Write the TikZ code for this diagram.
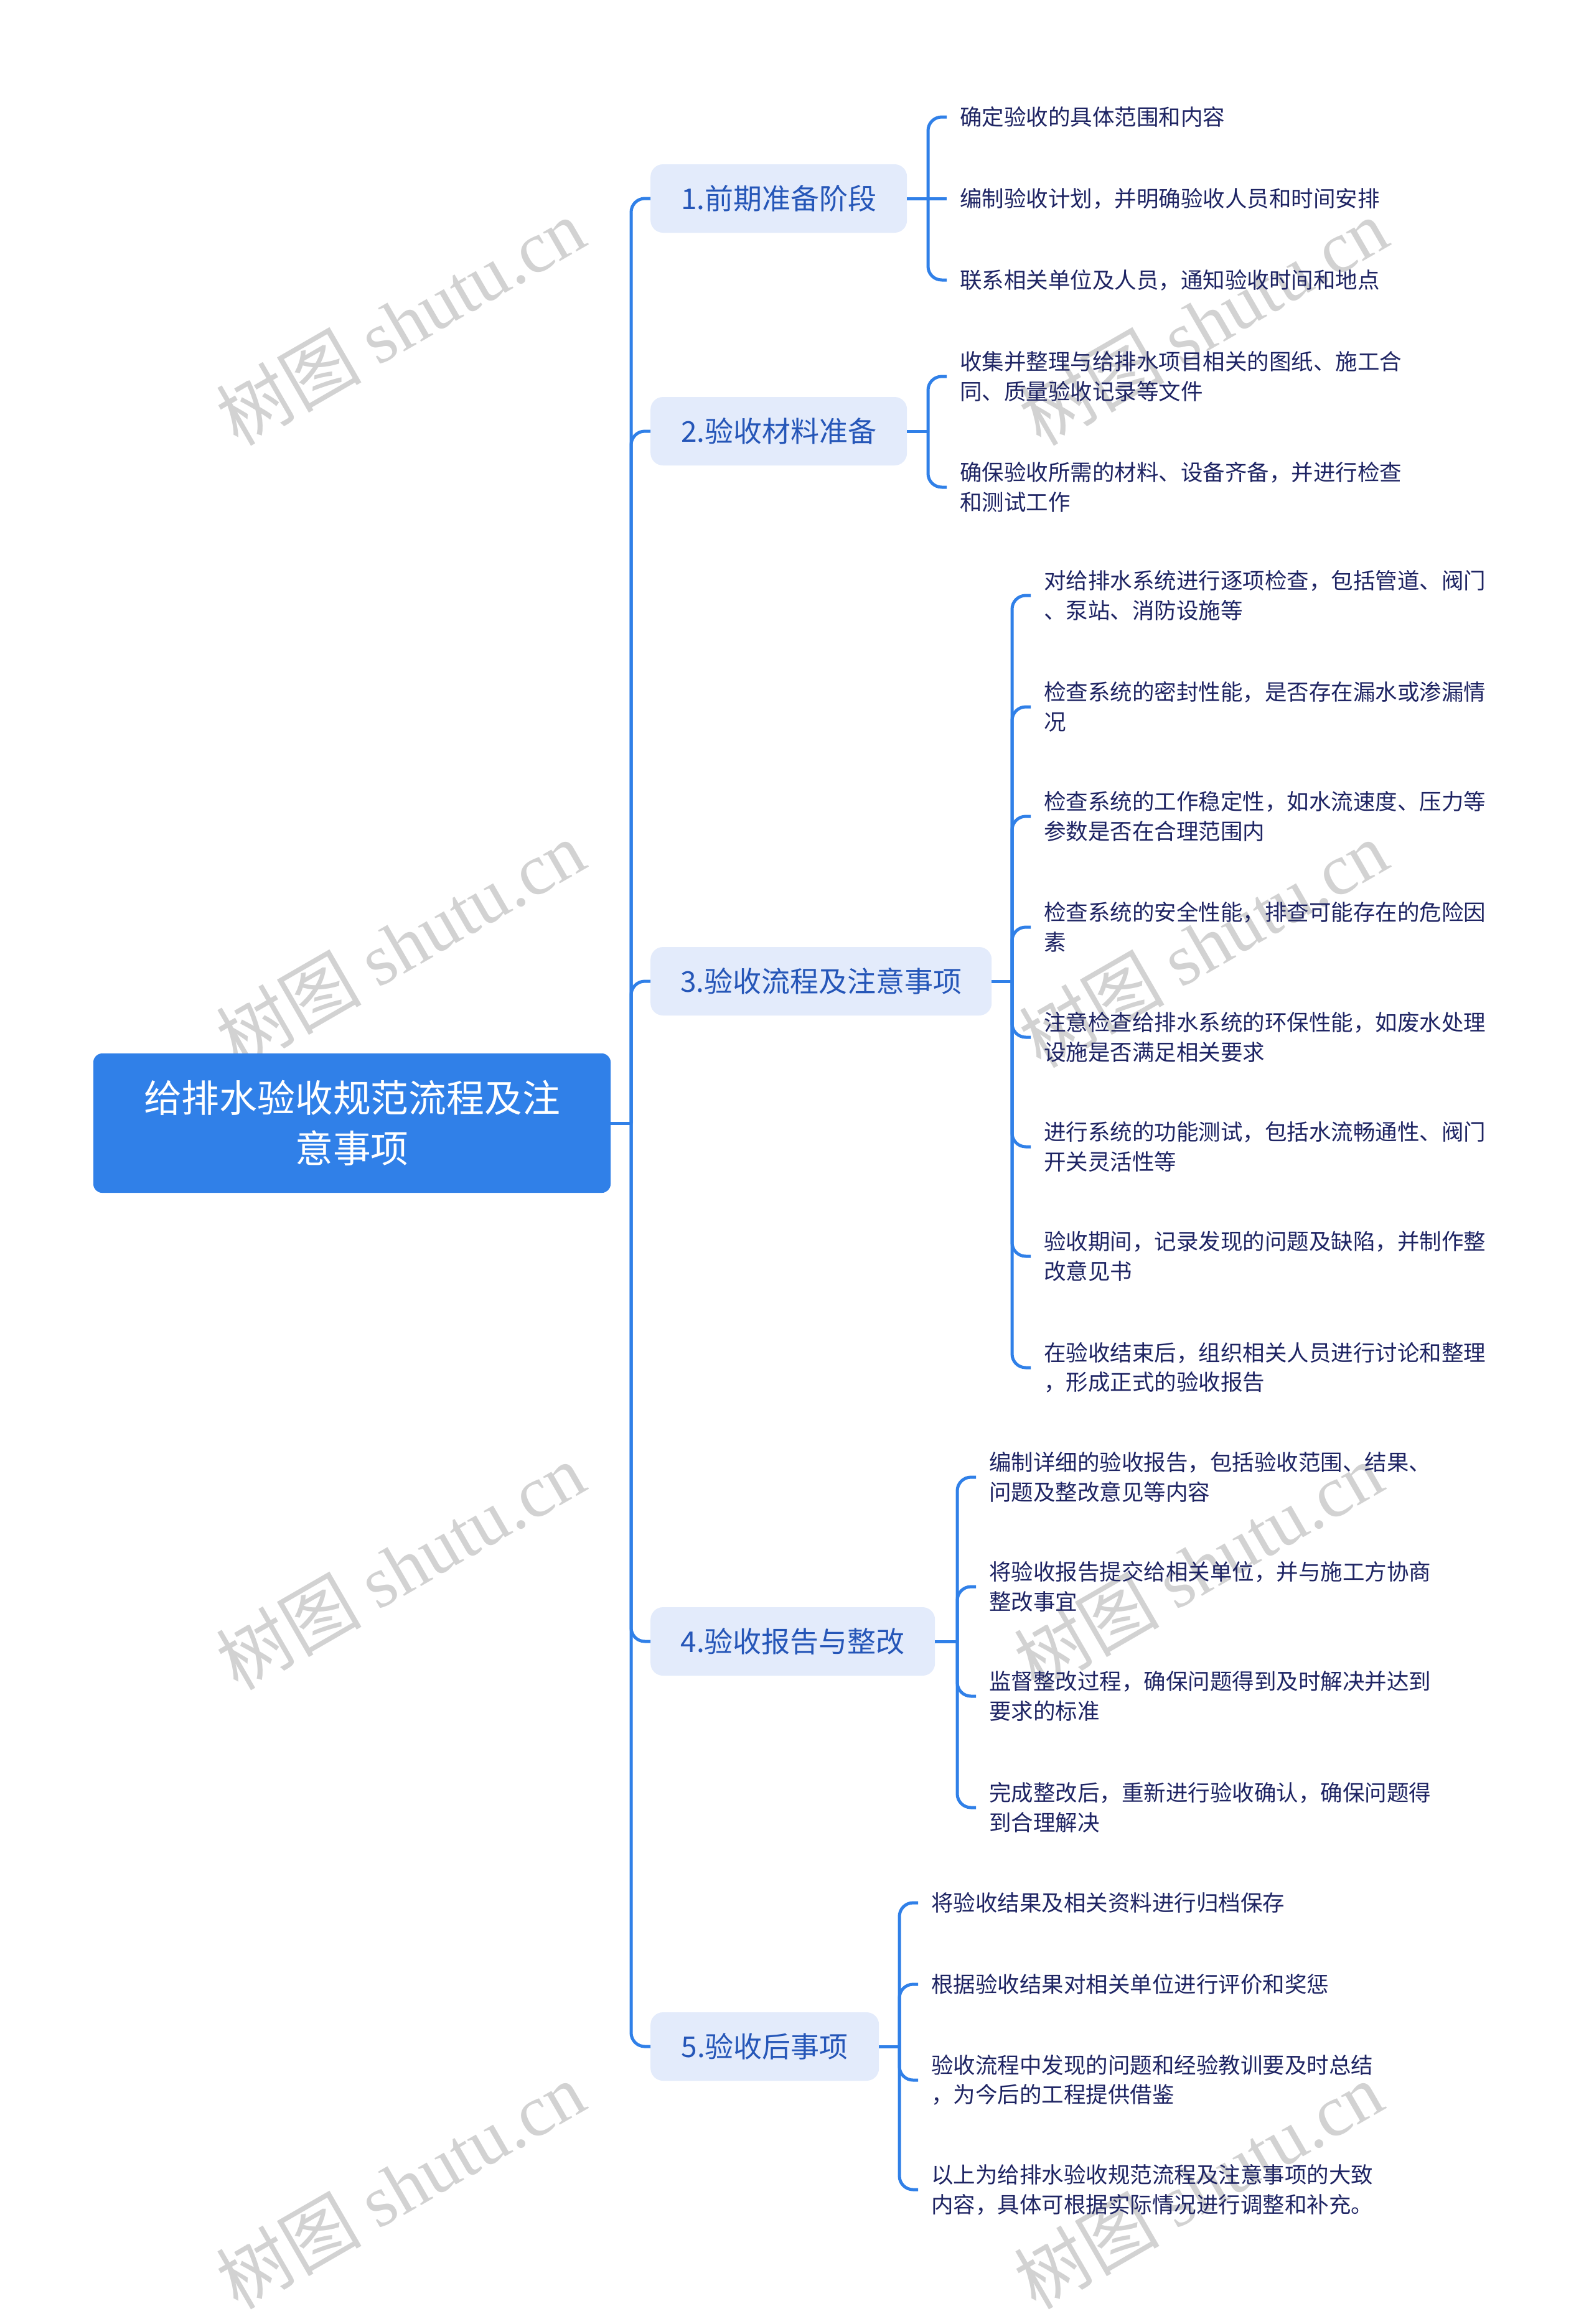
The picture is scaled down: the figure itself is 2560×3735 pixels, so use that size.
\documentclass[tikz,border=0pt]{standalone}
\usepackage{fontspec}
\setmainfont{Noto Sans CJK SC}
\newfontfamily\wmlatin{Liberation Serif}
\newfontfamily\wmcjk{Noto Sans CJK SC}
\definecolor{cblue}{HTML}{3080E8}
\definecolor{bfill}{HTML}{E3EBFB}
\definecolor{btext}{HTML}{2556B8}
\definecolor{ltext}{HTML}{1E2463}
\definecolor{wmgray}{HTML}{D2D2D2}
\tikzset{
  conn/.style={draw=cblue, line width=5pt, rounded corners=22pt},
  rootbox/.style={fill=cblue, rounded corners=14pt, minimum width=831pt, minimum height=224pt,
    align=center, text=white, font=\fontsize{60.8}{81}\selectfont, inner sep=0pt},
  branchbox/.style={fill=bfill, rounded corners=20pt, minimum height=110pt, anchor=west,
    align=center, text=btext, font=\fontsize{46}{56}\selectfont, inner sep=0pt},
  leaf/.style={anchor=west, align=left, text=ltext, font=\fontsize{35.5}{47.6}\selectfont,
    inner xsep=21pt, inner ysep=4pt},
  wm/.style={text=wmgray, rotate=30, font=\fontsize{117}{120}\selectfont, inner sep=0pt}
}
\begin{document}
\begin{tikzpicture}[x=1pt,y=-1pt]
\fill[white] (0,0) rectangle (2560,3735);
\useasboundingbox (0,0) rectangle (2560,3735);

% watermarks (behind everything)
\foreach \i/\wx/\wy in {1/643/517, 2/643/1517, 3/643/2517, 4/643/3512,
                        5/1933/517, 6/1933/1517, 7/1925/2517, 8/1925/3512} {
  \node[wm] (w\i) at (\wx,\wy) {{\wmcjk 树图} {\wmlatin shutu.cn}};
}

% root
\node[rootbox] (root) at (565.5,1805) {给排水验收规范流程及注\\意事项};

% branches
\node[branchbox, minimum width=412pt] (b1) at (1045,319) {1.前期准备阶段};
\node[branchbox, minimum width=412pt] (b2) at (1045,693) {2.验收材料准备};
\node[branchbox, minimum width=548pt] (b3) at (1045,1577) {3.验收流程及注意事项};
\node[branchbox, minimum width=457pt] (b4) at (1045,2638) {4.验收报告与整改};
\node[branchbox, minimum width=367pt] (b5) at (1045,3289) {5.验收后事项};

% trunk
\coordinate (t) at (1014,1805);
\draw[conn] (root.east) -- (t);
\foreach \b in {b1,b2,b3,b4,b5} { \draw[conn] (t) |- (\b.west); }

% branch 1 leaves
\coordinate (j1) at (1491,319);
\node[leaf] (l11) at (1521,188) {确定验收的具体范围和内容};
\node[leaf] (l12) at (1521,319) {编制验收计划，并明确验收人员和时间安排};
\node[leaf] (l13) at (1521,450) {联系相关单位及人员，通知验收时间和地点};
\draw[conn] (b1.east) -- (j1);
\draw[conn] (j1) |- (l11.west);
\draw[conn] (j1) -- (l12.west);
\draw[conn] (j1) |- (l13.west);

% branch 2 leaves
\coordinate (j2) at (1491,693);
\node[leaf] (l21) at (1521,605) {收集并整理与给排水项目相关的图纸、施工合\\同、质量验收记录等文件};
\node[leaf] (l22) at (1521,783) {确保验收所需的材料、设备齐备，并进行检查\\和测试工作};
\draw[conn] (b2.east) -- (j2);
\draw[conn] (j2) |- (l21.west);
\draw[conn] (j2) |- (l22.west);

% branch 3 leaves
\coordinate (j3) at (1626,1577);
\node[leaf] (l31) at (1656,957) {对给排水系统进行逐项检查，包括管道、阀门\\、泵站、消防设施等};
\node[leaf] (l32) at (1656,1136) {检查系统的密封性能，是否存在漏水或渗漏情\\况};
\node[leaf] (l33) at (1656,1312) {检查系统的工作稳定性，如水流速度、压力等\\参数是否在合理范围内};
\node[leaf] (l34) at (1656,1490) {检查系统的安全性能，排查可能存在的危险因\\素};
\node[leaf] (l35) at (1656,1667) {注意检查给排水系统的环保性能，如废水处理\\设施是否满足相关要求};
\node[leaf] (l36) at (1656,1843) {进行系统的功能测试，包括水流畅通性、阀门\\开关灵活性等};
\node[leaf] (l37) at (1656,2019) {验收期间，记录发现的问题及缺陷，并制作整\\改意见书};
\node[leaf] (l38) at (1656,2198) {在验收结束后，组织相关人员进行讨论和整理\\，形成正式的验收报告};
\draw[conn] (b3.east) -- (j3);
\foreach \l in {l31,l32,l33,l34,l35,l36,l37,l38} { \draw[conn] (j3) |- (\l.west); }

% branch 4 leaves
\coordinate (j4) at (1538,2638);
\node[leaf] (l41) at (1568,2374) {编制详细的验收报告，包括验收范围、结果、\\问题及整改意见等内容};
\node[leaf] (l42) at (1568,2550) {将验收报告提交给相关单位，并与施工方协商\\整改事宜};
\node[leaf] (l43) at (1568,2726) {监督整改过程，确保问题得到及时解决并达到\\要求的标准};
\node[leaf] (l44) at (1568,2905) {完成整改后，重新进行验收确认，确保问题得\\到合理解决};
\draw[conn] (b4.east) -- (j4);
\foreach \l in {l41,l42,l43,l44} { \draw[conn] (j4) |- (\l.west); }

% branch 5 leaves
\coordinate (j5) at (1445,3289);
\node[leaf] (l51) at (1475,3058) {将验收结果及相关资料进行归档保存};
\node[leaf] (l52) at (1475,3189) {根据验收结果对相关单位进行评价和奖惩};
\node[leaf] (l53) at (1475,3343) {验收流程中发现的问题和经验教训要及时总结\\，为今后的工程提供借鉴};
\node[leaf] (l54) at (1475,3519) {以上为给排水验收规范流程及注意事项的大致\\内容，具体可根据实际情况进行调整和补充。};
\draw[conn] (b5.east) -- (j5);
\foreach \l in {l51,l52,l53,l54} { \draw[conn] (j5) |- (\l.west); }
\end{tikzpicture}
\end{document}
